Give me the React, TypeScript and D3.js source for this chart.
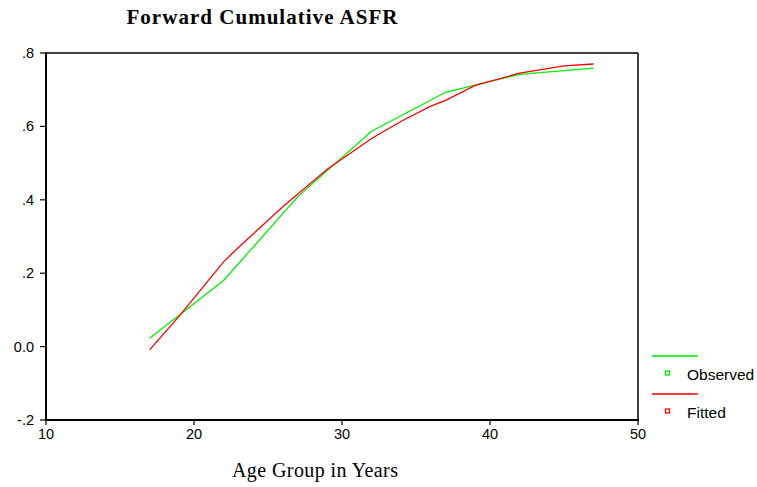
import React from "react";
import * as d3 from "d3";

const observedAges = [17, 22, 27, 32, 37, 42, 47];
const observedValues = [0.023, 0.18, 0.408, 0.587, 0.693, 0.742, 0.759];

const fittedAges = [17, 19, 22, 23, 26, 29, 32, 34, 36, 37, 39, 42, 45, 47];
const fittedValues = [-0.009, 0.083, 0.231, 0.27, 0.381, 0.483, 0.567, 0.614, 0.655, 0.671, 0.712, 0.745, 0.765, 0.77];

const xTicks = [10, 20, 30, 40, 50];
const yTicks = [-0.2, 0, 0.2, 0.4, 0.6, 0.8];
const yTickLabels = ["-.2", "0.0", ".2", ".4", ".6", ".8"];

const seriesNames = ["Observed", "Fitted"];
const seriesColors = ["#00ee00", "#ff0000"];

const W = 757;
const H = 487;
const L = 46, R = 638, T = 53, B = 420;

export default function App() {
  const x = d3.scaleLinear().domain([10, 50]).range([L, R]);
  const y = d3.scaleLinear().domain([-0.2, 0.8]).range([B, T]);
  const line = d3
    .line<[number, number]>()
    .x((d) => x(d[0]))
    .y((d) => y(d[1]));
  const obs = observedAges.map((a, i) => [a, observedValues[i]] as [number, number]);
  const fit = fittedAges.map((a, i) => [a, fittedValues[i]] as [number, number]);
  const sans = "Liberation Sans, Arial, sans-serif";
  const serif = "Liberation Serif, Times New Roman, serif";

  return (
    <svg
      width={W}
      height={H}
      style={{ position: "absolute", left: 0, top: 0, background: "#fff" }}
    >
      <rect x={0} y={0} width={W} height={H} fill="#fff" />
      <text
        x={262}
        y={24}
        textAnchor="middle"
        fontFamily={serif}
        fontWeight="bold"
        fontSize={21}
        textLength={271}
        lengthAdjust="spacing"
      >
        Forward Cumulative ASFR
      </text>

      {/* plot frame */}
      <line x1={L} y1={T} x2={R} y2={T} stroke="#000" strokeWidth={1.5} />
      <line x1={R} y1={T} x2={R} y2={B} stroke="#000" strokeWidth={1.5} />
      <line x1={L} y1={T - 0.75} x2={L} y2={B + 1} stroke="#000" strokeWidth={2} />
      <line x1={L - 1} y1={B} x2={R + 1} y2={B} stroke="#000" strokeWidth={2} />

      {yTicks.map((t, i) => (
        <g key={"y" + i}>
          <line x1={L - 6} x2={L} y1={y(t)} y2={y(t)} stroke="#000" strokeWidth={1.2} />
          <text
            x={34}
            y={y(t) + 5}
            textAnchor="end"
            fontFamily={sans}
            fontSize={14.5}
          >
            {yTickLabels[i]}
          </text>
        </g>
      ))}
      {xTicks.map((t, i) => (
        <g key={"x" + i}>
          <line x1={x(t)} x2={x(t)} y1={B} y2={B + 5} stroke="#000" strokeWidth={1.2} />
          <text
            x={x(t)}
            y={439}
            textAnchor="middle"
            fontFamily={sans}
            fontSize={14.5}
          >
            {t}
          </text>
        </g>
      ))}

      <text
        x={315}
        y={477}
        textAnchor="middle"
        fontFamily={serif}
        fontSize={20}
        textLength={166}
        lengthAdjust="spacing"
      >
        Age Group in Years
      </text>

      <path d={line(obs) || ""} fill="none" stroke={seriesColors[0]} strokeWidth={1.3} />
      <path d={line(fit) || ""} fill="none" stroke={seriesColors[1]} strokeWidth={1.3} />

      {/* legend */}
      {seriesNames.map((name, i) => {
        const ly = 356 + i * 38;
        return (
          <g key={name}>
            <line x1={652} x2={698} y1={ly} y2={ly} stroke={seriesColors[i]} strokeWidth={1.5} />
            <rect
              x={665.5}
              y={ly + 15}
              width={4}
              height={4}
              fill="none"
              stroke={seriesColors[i]}
              strokeWidth={1.3}
            />
            <text x={687} y={ly + 24} fontFamily={sans} fontSize={15.5}>
              {name}
            </text>
          </g>
        );
      })}
    </svg>
  );
}
